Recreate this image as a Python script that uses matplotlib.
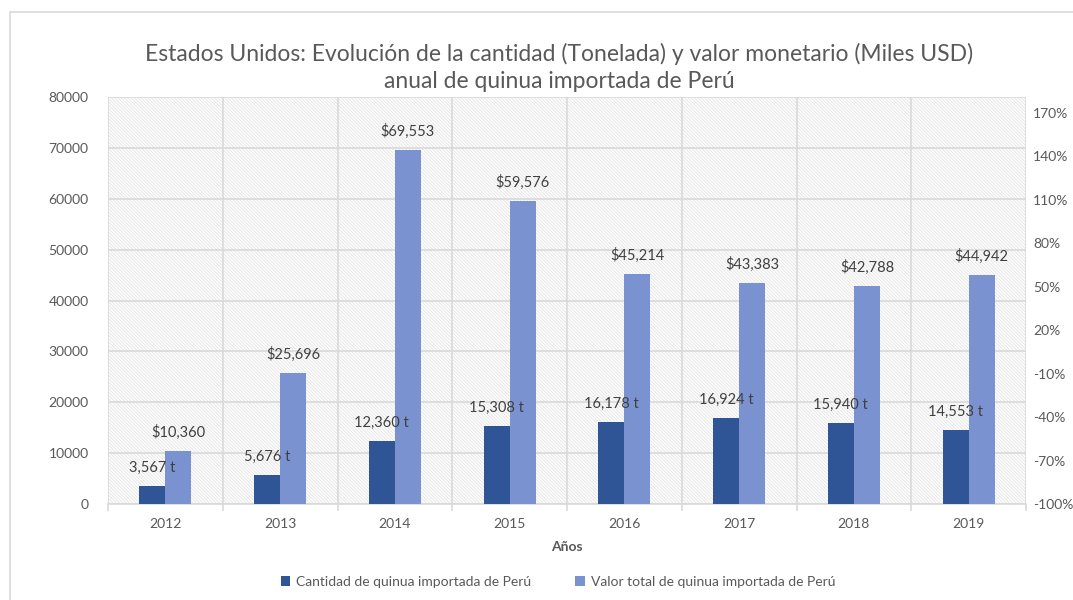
import numpy as np
import matplotlib.pyplot as plt
from matplotlib.patches import Rectangle
from matplotlib.ticker import FuncFormatter

years = ['2012', '2013', '2014', '2015', '2016', '2017', '2018', '2019']
cantidad = [3567, 5676, 12360, 15308, 16178, 16924, 15940, 14553]
valor = [10360, 25696, 69553, 59576, 45214, 43383, 42788, 44942]
pct_ticks = [-1.0, -0.7, -0.4, -0.1, 0.2, 0.5, 0.8, 1.1, 1.4, 1.7]

dark = '#2F5597'
light = '#7A92D0'
txt = '#595959'
grid_c = '#D9D9D9'

plt.rcParams['font.family'] = ['Lato', 'DejaVu Sans']
plt.rcParams['hatch.linewidth'] = 0.7

fig = plt.figure(figsize=(10.73, 6.0), dpi=100)
fig.patches.append(Rectangle((10 / 1073, -0.1), 1.2, (600 - 12) / 600 + 0.1,
                             transform=fig.transFigure, fill=False,
                             edgecolor='#D9D9D9', linewidth=1.2))

ax = fig.add_axes([108 / 1073, 96 / 600, (1026 - 108) / 1073, (504 - 97) / 600])
ax.set_facecolor('white')
# diagonal hatch in plot area
ax.add_patch(Rectangle((0, 0), 1, 1, transform=ax.transAxes, facecolor='white',
                       edgecolor='#E6E6E6', hatch='\\' * 10, linewidth=0, zorder=0))

x = np.arange(len(years))
w = 0.227
b1 = ax.bar(x - w / 2, cantidad, w, color=dark, zorder=3,
            label='Cantidad de quinua importada de Perú')
b2 = ax.bar(x + w / 2, valor, w, color=light, zorder=3,
            label='Valor total de quinua importada de Perú')

for xi, v in zip(x, cantidad):
    ax.annotate(f'{v:,} t', (xi - w / 2, v), xytext=(0, 8), textcoords='offset points',
                ha='center', va='bottom', fontsize=10.5, color='#404040', zorder=4)
for xi, v in zip(x, valor):
    ax.annotate(f'${v:,}', (xi + w / 2, v), xytext=(0, 8), textcoords='offset points',
                ha='center', va='bottom', fontsize=10.5, color='#404040', zorder=4)

ax.set_xlim(-0.5, 7.5)
ax.set_ylim(0, 80000)
ax.set_yticks(range(0, 80001, 10000))
ax.set_xticks(x)
ax.set_xticklabels(years)
ax.set_xticks(np.arange(-0.5, 8, 1), minor=True)
ax.tick_params(axis='x', which='major', length=0, pad=10, labelsize=10, labelcolor=txt)
ax.tick_params(axis='x', which='minor', length=5, color=grid_c, width=1.2)
ax.tick_params(axis='y', length=0, pad=14, labelsize=10, labelcolor=txt)
ax.grid(True, which='minor', axis='x', color=grid_c, linewidth=1.2, zorder=1)
ax.grid(True, which='major', axis='y', color=grid_c, linewidth=1.2, zorder=1)
for s in ['top', 'right', 'left']:
    ax.spines[s].set_visible(False)
ax.spines['bottom'].set_color(grid_c)
ax.spines['bottom'].set_linewidth(1.2)
ax.set_axisbelow(True)

ax.set_xlabel('Años', fontsize=10, fontweight='bold', color=txt, labelpad=8)

ax2 = ax.twinx()
ax2.set_ylim(-1.0, 1.81)
ax2.set_yticks(pct_ticks)
ax2.yaxis.set_major_formatter(FuncFormatter(lambda v, p: f'{round(v * 100)}%'))
ax2.tick_params(axis='y', length=0, pad=5, labelsize=10, labelcolor=txt)
for s in ax2.spines.values():
    s.set_visible(False)

fig.text(0.521, 0.888,
         'Estados Unidos: Evolución de la cantidad (Tonelada) y valor monetario (Miles USD)\n'
         'anual de quinua importada de Perú',
         ha='center', va='center', fontsize=16.5, color=txt, linespacing=1.35)

fig.legend(handles=[b1, b2], loc='center', bbox_to_anchor=(0.52, 0.03), ncol=2,
           frameon=False, fontsize=10, labelcolor=txt, handlelength=0.7,
           handleheight=0.7, handletextpad=0.4, columnspacing=3.2)

fig.savefig('out.png', dpi=100)
